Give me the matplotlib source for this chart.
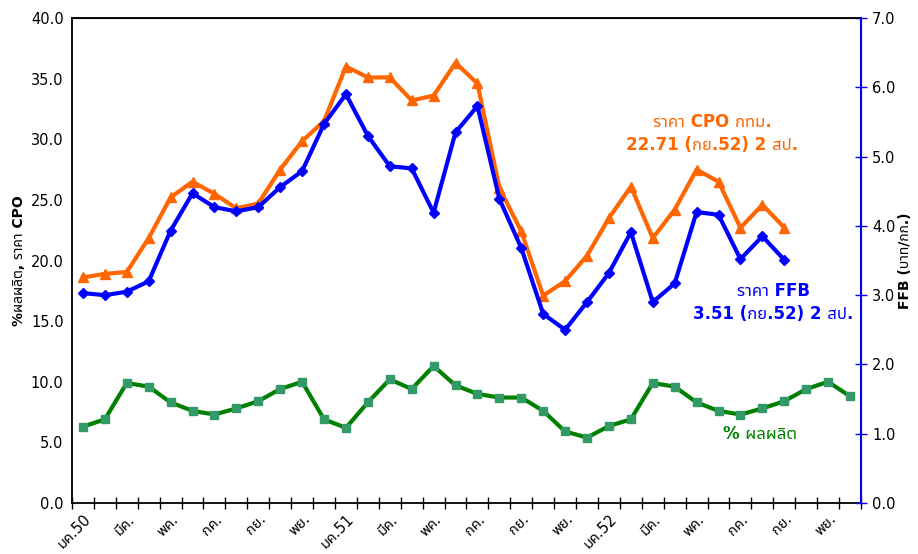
import numpy as np
import matplotlib
matplotlib.use("Agg")
import matplotlib.pyplot as plt
from matplotlib import font_manager

# ---------------- data ----------------
months = ["มค.50", "", "มีค.", "", "พค.", "", "กค.", "", "กย.", "", "พย.", "",
          "มค.51", "", "มีค.", "", "พค.", "", "กค.", "", "กย.", "", "พย.", "",
          "มค.52", "", "มีค.", "", "พค.", "", "กค.", "", "กย.", "", "พย.", ""]

# % ผลผลิต (left axis)
yield_pct = [6.3, 6.9, 9.9, 9.6, 8.3, 7.6, 7.3, 7.8, 8.4, 9.4, 10.0, 6.9,
             6.2, 8.3, 10.2, 9.4, 11.3, 9.7, 9.0, 8.7, 8.7, 7.6, 5.9, 5.4,
             6.35, 6.9, 9.9, 9.6, 8.3, 7.6, 7.3, 7.8, 8.4, 9.4, 10.0, 8.8]

# ราคา CPO (left axis)
cpo = [18.6, 18.9, 19.05, 21.85, 25.2, 26.5, 25.5, 24.3, 24.7, 27.5, 29.85, 31.5,
       36.0, 35.1, 35.1, 33.2, 33.6, 36.3, 34.6, 26.0, 22.4, 17.1, 18.3, 20.4,
       23.5, 26.1, 21.85, 24.2, 27.5, 26.5, 22.7, 24.6, 22.71]

# ราคา FFB (right axis, บาท/กก.)
ffb = [3.03, 3.0, 3.05, 3.2, 3.93, 4.47, 4.27, 4.21, 4.27, 4.56, 4.79, 5.47,
       5.9, 5.3, 4.86, 4.83, 4.19, 5.35, 5.73, 4.39, 3.68, 2.73, 2.5, 2.9,
       3.32, 3.91, 2.9, 3.17, 4.2, 4.16, 3.52, 3.85, 3.51]

# ---------------- font ----------------
thai_candidates = ["Tahoma", "Noto Sans Thai", "Loma", "Garuda", "Norasi",
                   "TlwgTypo", "Waree", "Umpush", "Kinnari", "Sawasdee"]
installed = {f.name for f in font_manager.fontManager.ttflist}
fams = ["DejaVu Sans"] + [f for f in thai_candidates if f in installed] + ["Noto Sans"]
plt.rcParams["font.family"] = fams

ORANGE = "#FF6600"
BLUE = "#0000FF"
GREEN = "#008000"
GREEN_MK = "#339966"

fig = plt.figure(figsize=(9.18, 5.54), dpi=100)
ax = fig.add_axes([0.0784, 0.092, 0.8595, 0.8755])
ax2 = ax.twinx()

x = np.arange(len(months))
ax.plot(x, yield_pct, color=GREEN, lw=3, marker="s", ms=6,
        mfc=GREEN_MK, mec=GREEN_MK, zorder=3)
ax.plot(np.arange(len(cpo)), cpo, color=ORANGE, lw=3, marker="^", ms=7,
        mfc=ORANGE, mec=ORANGE, zorder=3)
ax2.plot(np.arange(len(ffb)), ffb, color=BLUE, lw=3, marker="D", ms=5,
         mfc=BLUE, mec=BLUE, zorder=3)

ax.set_xlim(-0.5, len(months) - 0.5)
ax.set_ylim(0, 40)
ax2.set_ylim(0, 7)
ax.set_yticks(np.arange(0, 40.1, 5))
ax.set_yticklabels([f"{v:.1f}" for v in np.arange(0, 40.1, 5)], fontsize=10.5)
ax2.set_yticks(np.arange(0, 7.1, 1))
ax2.set_yticklabels([f"{v:.1f}" for v in np.arange(0, 7.1, 1)], fontsize=10.5)

# category boundary ticks on x axis
ax.set_xticks(np.arange(-0.5, len(months), 1), minor=False)
ax.set_xticklabels([])
ax.tick_params(axis="x", which="major", direction="inout", length=8, width=1)
ax.set_xticks(x, minor=True)
ax.set_xticklabels(months, minor=True, rotation=45, ha="right",
                   rotation_mode="anchor", fontsize=10.5)
ax.tick_params(axis="x", which="minor", length=0, pad=6)

ax.tick_params(axis="y", length=0, pad=6)
ax2.tick_params(axis="y", direction="inout", length=8, width=1, colors=BLUE,
                labelcolor="black", pad=4)
for t in ax2.get_yticklabels():
    t.set_color("black")

ax2.spines["right"].set_color(BLUE)
ax2.spines["right"].set_linewidth(1.5)
for s in ["top", "left", "bottom"]:
    ax.spines[s].set_linewidth(1.3)
ax2.spines["left"].set_visible(False)
ax2.spines["bottom"].set_visible(False)

ax.set_ylabel("%ผลผลิต, ราคา CPO", fontsize=10, fontweight="bold")
ax.yaxis.set_label_coords(-0.058, 0.5)
ax2.set_ylabel("FFB (บาท/กก.)", fontsize=10, fontweight="bold")
ax2.yaxis.set_label_coords(1.047, 0.5)

ax.text(28.7, 30.5, "ราคา CPO กทม.\n22.71 (กย.52) 2 สป.", color=ORANGE,
        fontsize=12, fontweight="bold", ha="center", va="center",
        linespacing=1.35)
ax2.text(31.5, 2.9, "ราคา FFB\n3.51 (กย.52) 2 สป.", color=BLUE,
         fontsize=12, fontweight="bold", ha="center", va="center",
         linespacing=1.35)
ax.text(30.9, 5.7, "% ผลผลิต", color=GREEN, fontsize=12,
        fontweight="bold", ha="center", va="center")

fig.savefig("out.png", dpi=100)
